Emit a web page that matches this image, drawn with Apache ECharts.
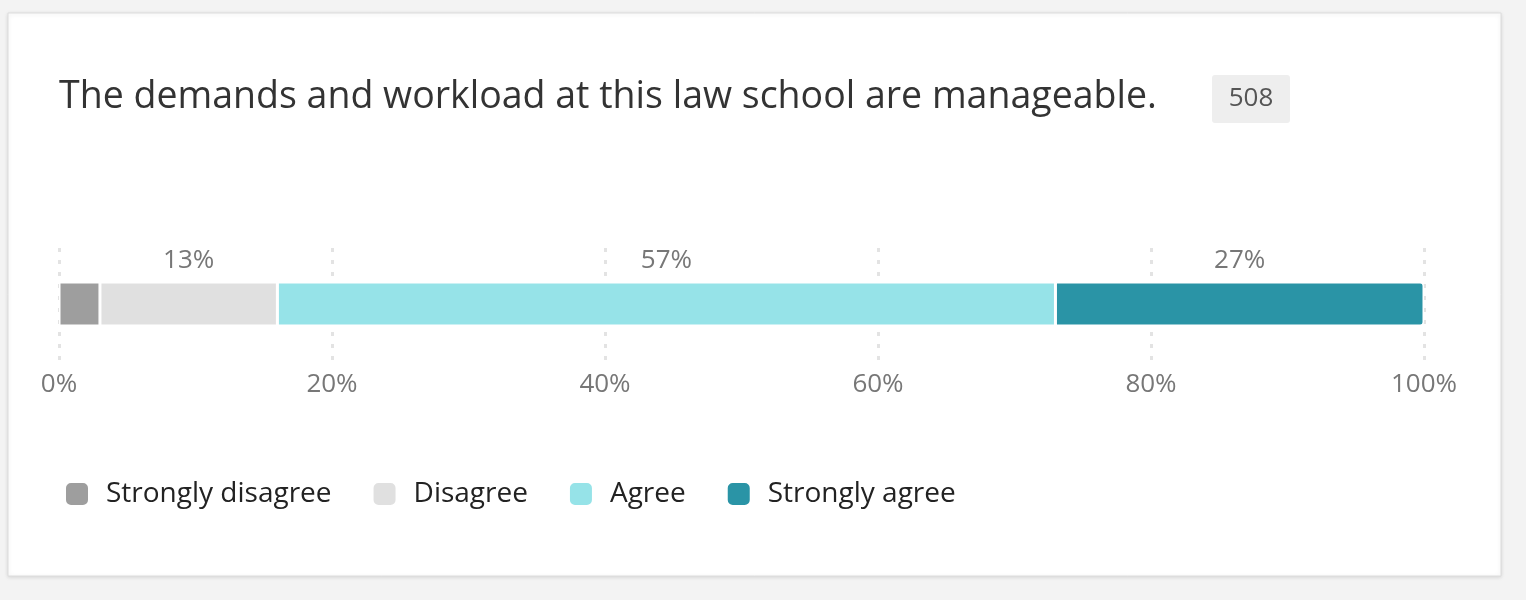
<!DOCTYPE html>
<html><head><meta charset="utf-8">
<script src="https://cdn.jsdelivr.net/npm/echarts@6/dist/echarts.min.js"></script>
<style>html,body{margin:0;padding:0;background:#f3f3f3;}#c{width:1526px;height:600px;}</style>
</head><body><div id="c"></div>
<script>
const categories = ['Q'];
const seriesNames = ['Strongly disagree', 'Disagree', 'Agree', 'Strongly agree'];
const seriesValues = [3, 13, 57, 27];
const seriesColors = ['#9e9e9e', '#e0e0e0', '#96e3e8', '#2a94a6'];
const titleText = 'The demands and workload at this law school are manageable.';
const countText = '508';
const F = '"Open Sans", "Noto Sans", sans-serif';

const chart = echarts.init(document.getElementById('c'));
chart.setOption({
  animation: false,
  textStyle: { fontFamily: F },
  graphic: [
    { type: 'rect', z: -10, shape: { x: 8, y: 13, width: 1493, height: 563 },
      style: { fill: '#fff', stroke: '#dcdcdc', lineWidth: 1, shadowBlur: 4, shadowColor: 'rgba(0,0,0,0.12)', shadowOffsetY: 1 } },
    { type: 'text', x: 59, y: 97, style: { text: titleText, font: '37.5px ' + F, fill: '#333', verticalAlign: 'middle' } },
    { type: 'rect', shape: { x: 1212, y: 75, width: 78, height: 48, r: 3 }, style: { fill: '#eeeeee' } },
    { type: 'text', x: 1251, y: 99, style: { text: countText, font: '26px ' + F, fill: '#555', align: 'center', verticalAlign: 'middle' } }
  ],
  legend: {
    left: 59, top: 475, icon: 'roundRect', itemWidth: 24, itemHeight: 24, itemGap: 40,
    textStyle: { fontSize: 28, color: '#222', fontFamily: F, padding: [0, 0, 0, 12] },
    data: seriesNames
  },
  grid: { left: 59, right: 102, top: 248, bottom: 240 },
  xAxis: {
    type: 'value', min: 0, max: 100, interval: 20,
    axisLine: { show: false }, axisTick: { show: false },
    axisLabel: { formatter: '{value}%', fontSize: 26, color: '#777', margin: 12, fontFamily: F },
    splitLine: { show: true, lineStyle: { type: [4, 8], width: 3, color: '#e3e3e3' } }
  },
  yAxis: { type: 'category', data: categories, show: false },
  series: seriesNames.map((n, i) => ({
    name: n, type: 'bar', stack: 's', barWidth: 44,
    data: [seriesValues[i]],
    itemStyle: { color: seriesColors[i], borderColor: '#fff', borderWidth: 1.5,
      borderRadius: i === 3 ? [0, 3, 3, 0] : 0 },
    label: { show: seriesValues[i] >= 5, position: 'top', distance: 8, formatter: '{c}%',
      fontSize: 26, color: '#777', fontFamily: F }
  }))
});
</script></body></html>
